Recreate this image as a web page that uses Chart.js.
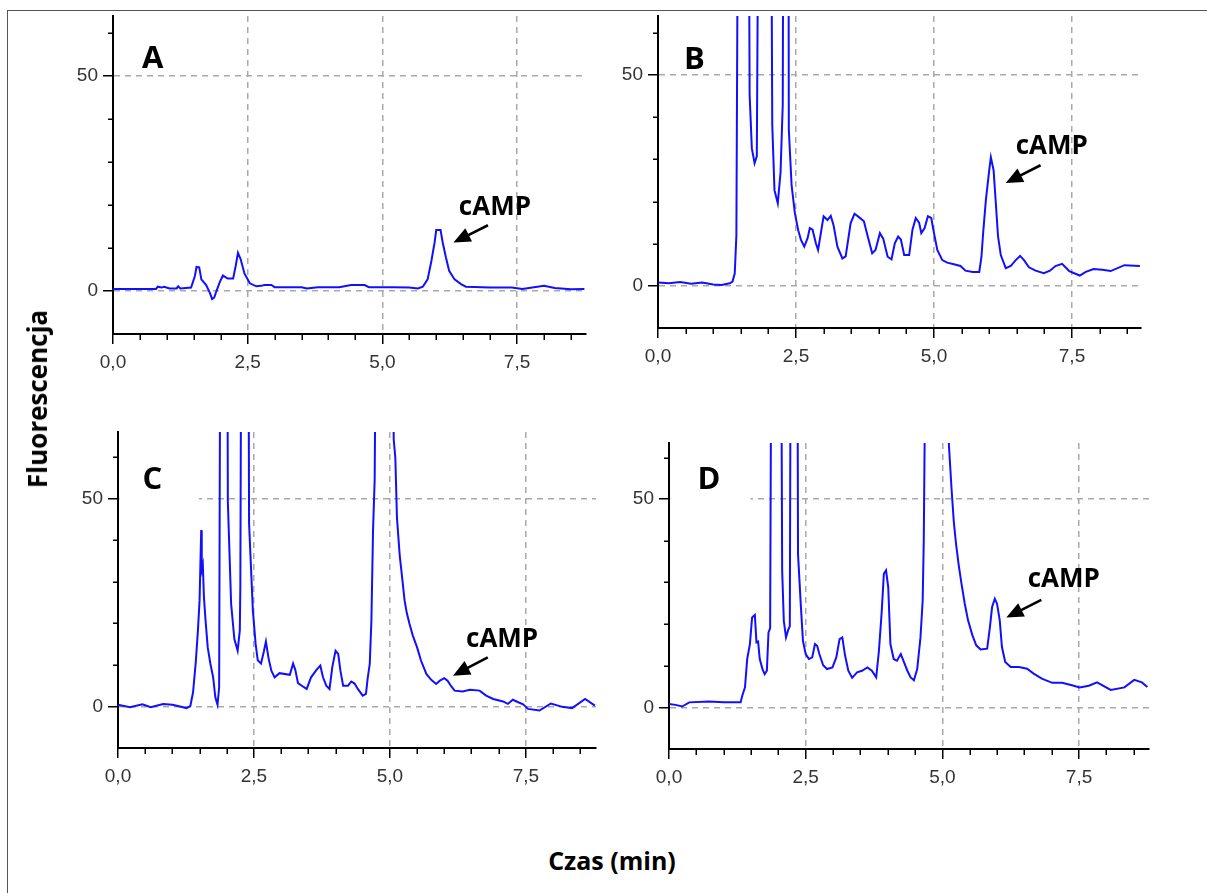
<!DOCTYPE html>
<html lang="pl">
<head>
  <meta charset="UTF-8">
  <title>Chromatogramy cAMP</title>
  <script src="https://cdn.jsdelivr.net/npm/chart.js@4.4.1/dist/chart.umd.min.js"></script>
  <style>
    html, body { margin: 0; padding: 0; background: #fff; }
    #page { position: relative; width: 1207px; height: 893px; overflow: hidden; }
    #frame { position: absolute; left: 7px; top: 10px; width: 1220px; height: 900px;
             border-left: 1.5px solid #555; border-top: 1.5px solid #555; }
    canvas { position: absolute; }
    .title { position: absolute; font-family: "Open Sans", sans-serif; font-weight: bold; line-height: 1; white-space: nowrap; color: #000; }
    #ytitle { left: 37px; top: 399px; font-size: 26px; transform: translate(-50%, -50%) rotate(-90deg); }
    #xtitle { left: 612px; top: 848px; font-size: 25px; transform: translateX(-50%); }
  </style>
</head>
<body>
  <div id="page">
    <div id="frame"></div>
    <canvas id="chartA"></canvas>
    <canvas id="chartB"></canvas>
    <canvas id="chartC"></canvas>
    <canvas id="chartD"></canvas>
    <div class="title" id="ytitle">Fluorescencja</div>
    <div class="title" id="xtitle">Czas (min)</div>
  </div>
  <script>
    // values (time in min, fluorescence)
    // off-scale peaks are given a large value so they run out of the plot
    const timeA = [0, 0.3, 0.8, 0.83, 0.9, 0.95, 1.05, 1.18, 1.21, 1.25, 1.45, 1.52, 1.55, 1.6, 1.64, 1.73, 1.8, 1.84, 1.88, 1.92, 1.98, 2.04, 2.13, 2.23, 2.28, 2.32, 2.37, 2.44, 2.54, 2.66, 2.75, 2.81, 2.94, 3.0, 3.5, 3.6, 3.8, 4.2, 4.42, 4.67, 4.75, 5.2, 5.5, 5.66, 5.75, 5.84, 5.91, 5.97, 6.0, 6.08, 6.12, 6.18, 6.24, 6.34, 6.46, 6.55, 7.0, 7.4, 7.6, 8.0, 8.2, 8.5, 8.75];
    const signalA = [0.5, 0.5, 0.5, 1.0, 0.8, 1.0, 0.6, 0.6, 1.1, 0.6, 0.8, 3.5, 5.6, 5.5, 2.7, 1.4, -0.5, -1.9, -1.5, 0, 2.0, 3.6, 2.9, 2.9, 6.0, 8.9, 7.4, 4.1, 1.8, 1.1, 1.2, 1.4, 1.4, 0.9, 0.9, 0.6, 0.9, 0.9, 1.4, 1.4, 0.9, 0.9, 0.8, 0.6, 1.0, 2.7, 7.0, 11.3, 14.2, 14.2, 11.3, 7.8, 4.7, 2.7, 1.6, 1.0, 0.8, 0.8, 0.5, 1.2, 0.7, 0.4, 0.5];

    const timeB = [0, 0.2, 0.4, 0.6, 0.8, 1.0, 1.15, 1.3, 1.35, 1.39, 1.42, 1.55, 1.66, 1.7, 1.75, 1.79, 1.95, 2.07, 2.11, 2.17, 2.22, 2.26, 2.33, 2.37, 2.42, 2.48, 2.54, 2.59, 2.65, 2.71, 2.75, 2.8, 2.86, 2.9, 2.96, 3.0, 3.07, 3.13, 3.18, 3.25, 3.34, 3.4, 3.49, 3.56, 3.64, 3.73, 3.8, 3.88, 3.94, 4.02, 4.08, 4.16, 4.23, 4.29, 4.35, 4.4, 4.46, 4.55, 4.61, 4.67, 4.73, 4.77, 4.83, 4.89, 4.95, 5.0, 5.06, 5.15, 5.24, 5.36, 5.48, 5.57, 5.7, 5.82, 5.86, 5.89, 5.94, 6.0, 6.03, 6.08, 6.12, 6.16, 6.21, 6.3, 6.39, 6.48, 6.56, 6.63, 6.72, 6.84, 6.99, 7.1, 7.2, 7.32, 7.45, 7.64, 7.75, 7.89, 8.05, 8.2, 8.45, 8.73];
    const signalB = [0.8, 0.6, 0.9, 0.5, 0.8, 0.3, 0.2, 0.6, 1.0, 2.9, 11.9, 400, 45.3, 32.6, 29.1, 30.7, 400, 38.2, 22.7, 19.6, 26.9, 43.0, 400, 37.0, 23.9, 17.2, 13.2, 10.9, 9.3, 11.3, 13.7, 13.3, 10.1, 8.5, 13.3, 16.5, 15.6, 16.6, 14.4, 9.3, 6.5, 7.0, 14.9, 17.1, 16.3, 15.3, 11.7, 7.7, 8.5, 12.5, 11.2, 6.9, 6.3, 10.1, 11.7, 11.0, 7.3, 7.3, 13.3, 16.1, 15.0, 12.5, 13.7, 16.5, 16.1, 12.5, 8.5, 6.1, 5.5, 5.1, 4.7, 3.6, 3.3, 3.3, 6.9, 12.5, 20.4, 27.4, 30.5, 27.4, 19.6, 11.7, 7.3, 4.2, 4.7, 6.1, 7.1, 6.1, 4.4, 3.6, 3.0, 3.6, 4.7, 5.2, 3.5, 2.45, 3.3, 4.0, 3.8, 3.5, 4.9, 4.7];

    const timeC = [0, 0.22, 0.45, 0.6, 0.83, 1.0, 1.1, 1.26, 1.33, 1.38, 1.43, 1.47, 1.5, 1.53, 1.54, 1.56, 1.58, 1.61, 1.65, 1.7, 1.75, 1.79, 1.83, 1.86, 1.95, 2.02, 2.08, 2.14, 2.2, 2.24, 2.25, 2.34, 2.41, 2.48, 2.53, 2.57, 2.63, 2.68, 2.72, 2.77, 2.82, 2.88, 2.97, 3.16, 3.22, 3.26, 3.31, 3.4, 3.47, 3.55, 3.65, 3.72, 3.77, 3.83, 3.89, 3.94, 4.0, 4.05, 4.09, 4.14, 4.23, 4.29, 4.35, 4.41, 4.5, 4.56, 4.59, 4.63, 4.66, 4.69, 4.72, 4.9, 5.07, 5.1, 5.13, 5.18, 5.23, 5.27, 5.31, 5.36, 5.42, 5.5, 5.57, 5.67, 5.76, 5.85, 5.92, 6.0, 6.06, 6.13, 6.19, 6.34, 6.47, 6.65, 6.77, 6.9, 7.08, 7.17, 7.26, 7.36, 7.45, 7.54, 7.75, 7.96, 8.17, 8.35, 8.59, 8.77];
    const signalC = [0.4, -0.2, 0.5, -0.2, 0.6, 0.4, 0.1, -0.4, 0.1, 3.4, 10.6, 18.3, 25.5, 42.4, 32.8, 34.0, 26.3, 20.7, 14.2, 10.2, 7.0, 2.2, 0.4, 4.6, 400, 49.3, 24.7, 16.2, 13.4, 18.3, 29.1, 400, 44.1, 23.1, 15.1, 11.1, 10.3, 13.1, 15.6, 11.5, 8.6, 7.0, 8.0, 7.6, 10.3, 8.8, 5.6, 4.8, 4.2, 7.0, 8.8, 9.8, 7.0, 5.0, 4.2, 9.4, 13.4, 12.6, 8.6, 5.0, 5.0, 6.0, 5.5, 4.2, 2.6, 3.0, 6.6, 10.3, 20.7, 42.4, 54.5, 400, 64.2, 59.8, 45.3, 36.4, 30.4, 25.5, 22.5, 19.9, 17.1, 14.2, 11.1, 7.8, 6.4, 5.4, 6.2, 6.8, 6.2, 4.8, 3.8, 3.6, 4.0, 3.8, 2.6, 1.8, 1.2, 0.6, 1.6, 1.0, 0.5, -0.6, -1.0, 0.7, -0.1, -0.4, 1.8, 0.2];

    const timeD = [0, 0.12, 0.24, 0.37, 0.73, 1.0, 1.31, 1.34, 1.39, 1.43, 1.48, 1.52, 1.57, 1.6, 1.63, 1.66, 1.71, 1.75, 1.79, 1.82, 1.85, 1.96, 2.07, 2.1, 2.14, 2.18, 2.21, 2.29, 2.36, 2.41, 2.45, 2.5, 2.56, 2.62, 2.67, 2.71, 2.75, 2.82, 2.89, 2.99, 3.06, 3.12, 3.17, 3.22, 3.28, 3.35, 3.44, 3.53, 3.63, 3.71, 3.79, 3.84, 3.89, 3.93, 3.97, 4.01, 4.05, 4.11, 4.17, 4.24, 4.3, 4.36, 4.42, 4.48, 4.54, 4.6, 4.64, 4.66, 4.9, 5.12, 5.17, 5.21, 5.25, 5.3, 5.35, 5.41, 5.47, 5.55, 5.62, 5.7, 5.82, 5.87, 5.91, 5.96, 6.0, 6.05, 6.09, 6.15, 6.25, 6.4, 6.55, 6.67, 6.82, 7.01, 7.19, 7.37, 7.51, 7.68, 7.83, 8.08, 8.33, 8.51, 8.65, 8.75];
    const signalD = [0.8, 0.6, 0.2, 1.2, 1.4, 1.2, 1.2, 2.8, 4.8, 11.6, 15.2, 21.6, 22.2, 15.6, 15.8, 11.6, 9.2, 8.0, 8.8, 18.0, 19.0, 400, 32.9, 20.8, 16.8, 18.6, 19.5, 400, 36.8, 24.8, 16.0, 12.8, 11.6, 12.0, 15.2, 14.8, 12.8, 10.1, 9.2, 9.6, 12.0, 16.4, 16.8, 12.5, 8.8, 7.1, 8.4, 8.8, 9.6, 8.8, 7.2, 13.6, 22.8, 32.1, 32.9, 28.9, 15.2, 11.6, 11.2, 12.8, 10.8, 8.8, 7.2, 6.5, 9.2, 16.8, 25.6, 40.0, 400, 63.0, 52.1, 44.5, 39.3, 34.1, 29.7, 24.9, 20.9, 17.3, 14.9, 13.9, 14.1, 19.3, 24.1, 26.1, 24.9, 20.9, 14.5, 10.9, 9.7, 9.7, 9.3, 8.1, 6.9, 5.9, 5.9, 5.3, 4.8, 5.2, 6.0, 4.2, 4.8, 6.6, 6.0, 4.9];

    const xTickValues = [0, 2.5, 5, 7.5];
    const xTickLabels = ['0,0', '2,5', '5,0', '7,5'];
    const yTickValues = [0, 50];
    const yTickLabels = ['0', '50'];
    const peakLabel = 'cAMP';

    // layout: plot rectangle in page px [left, top, right, bottom]; annotations in data units
    const panels = [
      { id: 'chartA', letter: 'A', rect: [113, 16, 586, 334], xMax: 8.78, yMax: 64, time: timeA, signal: signalA,
        letterAt: [0.54, 51.8], labelAt: [6.42, 17.6], arrow: [6.96, 15.3, 6.32, 11.3], box: null },
      { id: 'chartB', letter: 'B', rect: [658, 16, 1141, 328], xMax: 8.75, yMax: 64, time: timeB, signal: signalB,
        letterAt: [0.47, 51.4], labelAt: [6.48, 31.3], arrow: [6.93, 28.6, 6.30, 24.4], box: null },
      { id: 'chartC', letter: 'C', rect: [118, 432, 596, 748], xMax: 8.79, yMax: 66, time: timeC, signal: signalC,
        letterAt: [0.45, 52.3], labelAt: [6.40, 14.3], arrow: [6.80, 11.8, 6.16, 7.4], box: 1.49 },
      { id: 'chartD', letter: 'D', rect: [669, 443, 1149, 749], xMax: 8.78, yMax: 63.5, time: timeD, signal: signalD,
        letterAt: [0.52, 52.5], labelAt: [6.56, 29.0], arrow: [6.81, 25.8, 6.17, 21.6], box: 1.49 },
    ];

    const PAD_L = 60, PAD_T = 10, PAD_R = 10, PAD_B = 50;
    const near = (v, list) => list.findIndex(t => Math.abs(t - v) < 1e-6);

    function drawArrow(ctx, x1, y1, x2, y2) {
      const a = Math.atan2(y2 - y1, x2 - x1);
      const head = 17, half = 7.5;
      const bx = x2 - head * Math.cos(a), by = y2 - head * Math.sin(a);
      ctx.lineWidth = 2.6;
      ctx.beginPath();
      ctx.moveTo(x1, y1);
      ctx.lineTo(bx + Math.cos(a), by + Math.sin(a));
      ctx.stroke();
      ctx.beginPath();
      ctx.moveTo(x2, y2);
      ctx.lineTo(bx + half * Math.sin(a), by - half * Math.cos(a));
      ctx.lineTo(bx - half * Math.sin(a), by + half * Math.cos(a));
      ctx.closePath();
      ctx.fill();
    }

    const annotate = {
      id: 'annotate',
      beforeDatasetsDraw(chart, args, opts) {
        if (!opts.box) return;
        const { ctx, scales: { x, y } } = chart;
        ctx.save();
        ctx.fillStyle = '#fff';
        const x0 = x.left + 1.5, x1 = x.getPixelForValue(opts.box);
        const y0 = y.getPixelForValue(58), y1 = y.getPixelForValue(48);
        ctx.fillRect(x0, y0, x1 - x0, y1 - y0);
        ctx.restore();
      },
      afterDraw(chart, args, opts) {
        const { ctx, scales: { x, y } } = chart;
        ctx.save();
        // minor ticks
        ctx.strokeStyle = '#000';
        ctx.lineWidth = 1.5;
        ctx.beginPath();
        x.ticks.forEach(t => {
          if (near(t.value, xTickValues) >= 0) return;
          const px = Math.round(x.getPixelForValue(t.value)) + 0.25;
          ctx.moveTo(px, x.top);
          ctx.lineTo(px, x.top + 6);
        });
        y.ticks.forEach(t => {
          if (t.value <= y.min || near(t.value, yTickValues) >= 0) return;
          const py = Math.round(y.getPixelForValue(t.value)) + 0.25;
          ctx.moveTo(y.right - 5, py);
          ctx.lineTo(y.right, py);
        });
        ctx.stroke();
        // panel letter, peak label and arrow
        ctx.fillStyle = '#000';
        ctx.textBaseline = 'alphabetic';
        ctx.textAlign = 'left';
        ctx.font = 'bold 31px "Open Sans"';
        ctx.fillText(opts.letter, x.getPixelForValue(opts.letterAt[0]), y.getPixelForValue(opts.letterAt[1]));
        ctx.font = 'bold 26px "Open Sans"';
        ctx.fillText(peakLabel, x.getPixelForValue(opts.labelAt[0]), y.getPixelForValue(opts.labelAt[1]));
        const [ax1, ay1, ax2, ay2] = opts.arrow;
        ctx.strokeStyle = '#000';
        drawArrow(ctx, x.getPixelForValue(ax1), y.getPixelForValue(ay1), x.getPixelForValue(ax2), y.getPixelForValue(ay2));
        ctx.restore();
      }
    };

    function makePanel(p) {
      const [l, t, r, b] = p.rect;
      const canvas = document.getElementById(p.id);
      const w = r - l + PAD_L + PAD_R, h = b - t + PAD_T + PAD_B;
      canvas.width = w;
      canvas.height = h;
      canvas.style.left = (l - PAD_L) + 'px';
      canvas.style.top = (t - PAD_T) + 'px';
      canvas.style.width = w + 'px';
      canvas.style.height = h + 'px';

      const points = p.time.map((tm, i) => ({ x: tm, y: p.signal[i] }));
      const tickFont = { family: '"Liberation Sans", Arial, sans-serif', size: 19 };

      new Chart(canvas.getContext('2d'), {
        type: 'line',
        data: {
          datasets: [{
            data: points,
            borderColor: '#1010ff',
            borderWidth: 2,
            pointRadius: 0,
            tension: 0,
            fill: false,
          }],
        },
        options: {
          responsive: false,
          animation: false,
          devicePixelRatio: 1,
          layout: { padding: { left: 0, top: PAD_T, right: PAD_R, bottom: 0 } },
          plugins: {
            legend: { display: false },
            tooltip: { enabled: false },
            annotate: { letter: p.letter, letterAt: p.letterAt, labelAt: p.labelAt, arrow: p.arrow, box: p.box },
          },
          scales: {
            x: {
              type: 'linear',
              min: 0,
              max: p.xMax,
              afterFit: (s) => { s.height = PAD_B; s.paddingLeft = 0; s.paddingRight = 0; },
              border: { color: '#000', width: 2, dash: [6, 5] },
              grid: {
                color: (c) => (c.tick && c.tick.value > 0 && near(c.tick.value, xTickValues) >= 0) ? '#a9a9a9' : 'transparent',
                lineWidth: 1.5,
                tickColor: (c) => (c.tick && near(c.tick.value, xTickValues) >= 0) ? '#000' : 'transparent',
                tickLength: 10,
                tickWidth: 1.5,
              },
              ticks: {
                stepSize: 0.5,
                includeBounds: false,
                autoSkip: false,
                maxRotation: 0,
                minRotation: 0,
                padding: 7,
                color: '#333',
                font: tickFont,
                callback: (v) => { const i = near(v, xTickValues); return i >= 0 ? xTickLabels[i] : ''; },
              },
            },
            y: {
              min: -10,
              max: p.yMax,
              afterFit: (s) => { s.width = PAD_L; s.paddingTop = 0; s.paddingBottom = 0; },
              border: { color: '#000', width: 2, dash: [6, 5] },
              grid: {
                color: (c) => (c.tick && near(c.tick.value, yTickValues) >= 0) ? '#a9a9a9' : 'transparent',
                lineWidth: 1.5,
                tickColor: (c) => (c.tick && near(c.tick.value, yTickValues) >= 0) ? '#000' : 'transparent',
                tickLength: 10,
                tickWidth: 1.5,
              },
              ticks: {
                stepSize: 10,
                includeBounds: false,
                autoSkip: false,
                padding: 5,
                color: '#333',
                font: tickFont,
                callback: (v) => { const i = near(v, yTickValues); return i >= 0 ? yTickLabels[i] : ''; },
              },
            },
          },
        },
        plugins: [annotate],
      });
    }

    const ready = document.fonts && document.fonts.load
      ? Promise.all([document.fonts.load('bold 26px "Open Sans"'), document.fonts.load('19px "Liberation Sans"')]).catch(() => {})
      : Promise.resolve();
    ready.then(() => panels.forEach(makePanel));
  </script>
</body>
</html>
